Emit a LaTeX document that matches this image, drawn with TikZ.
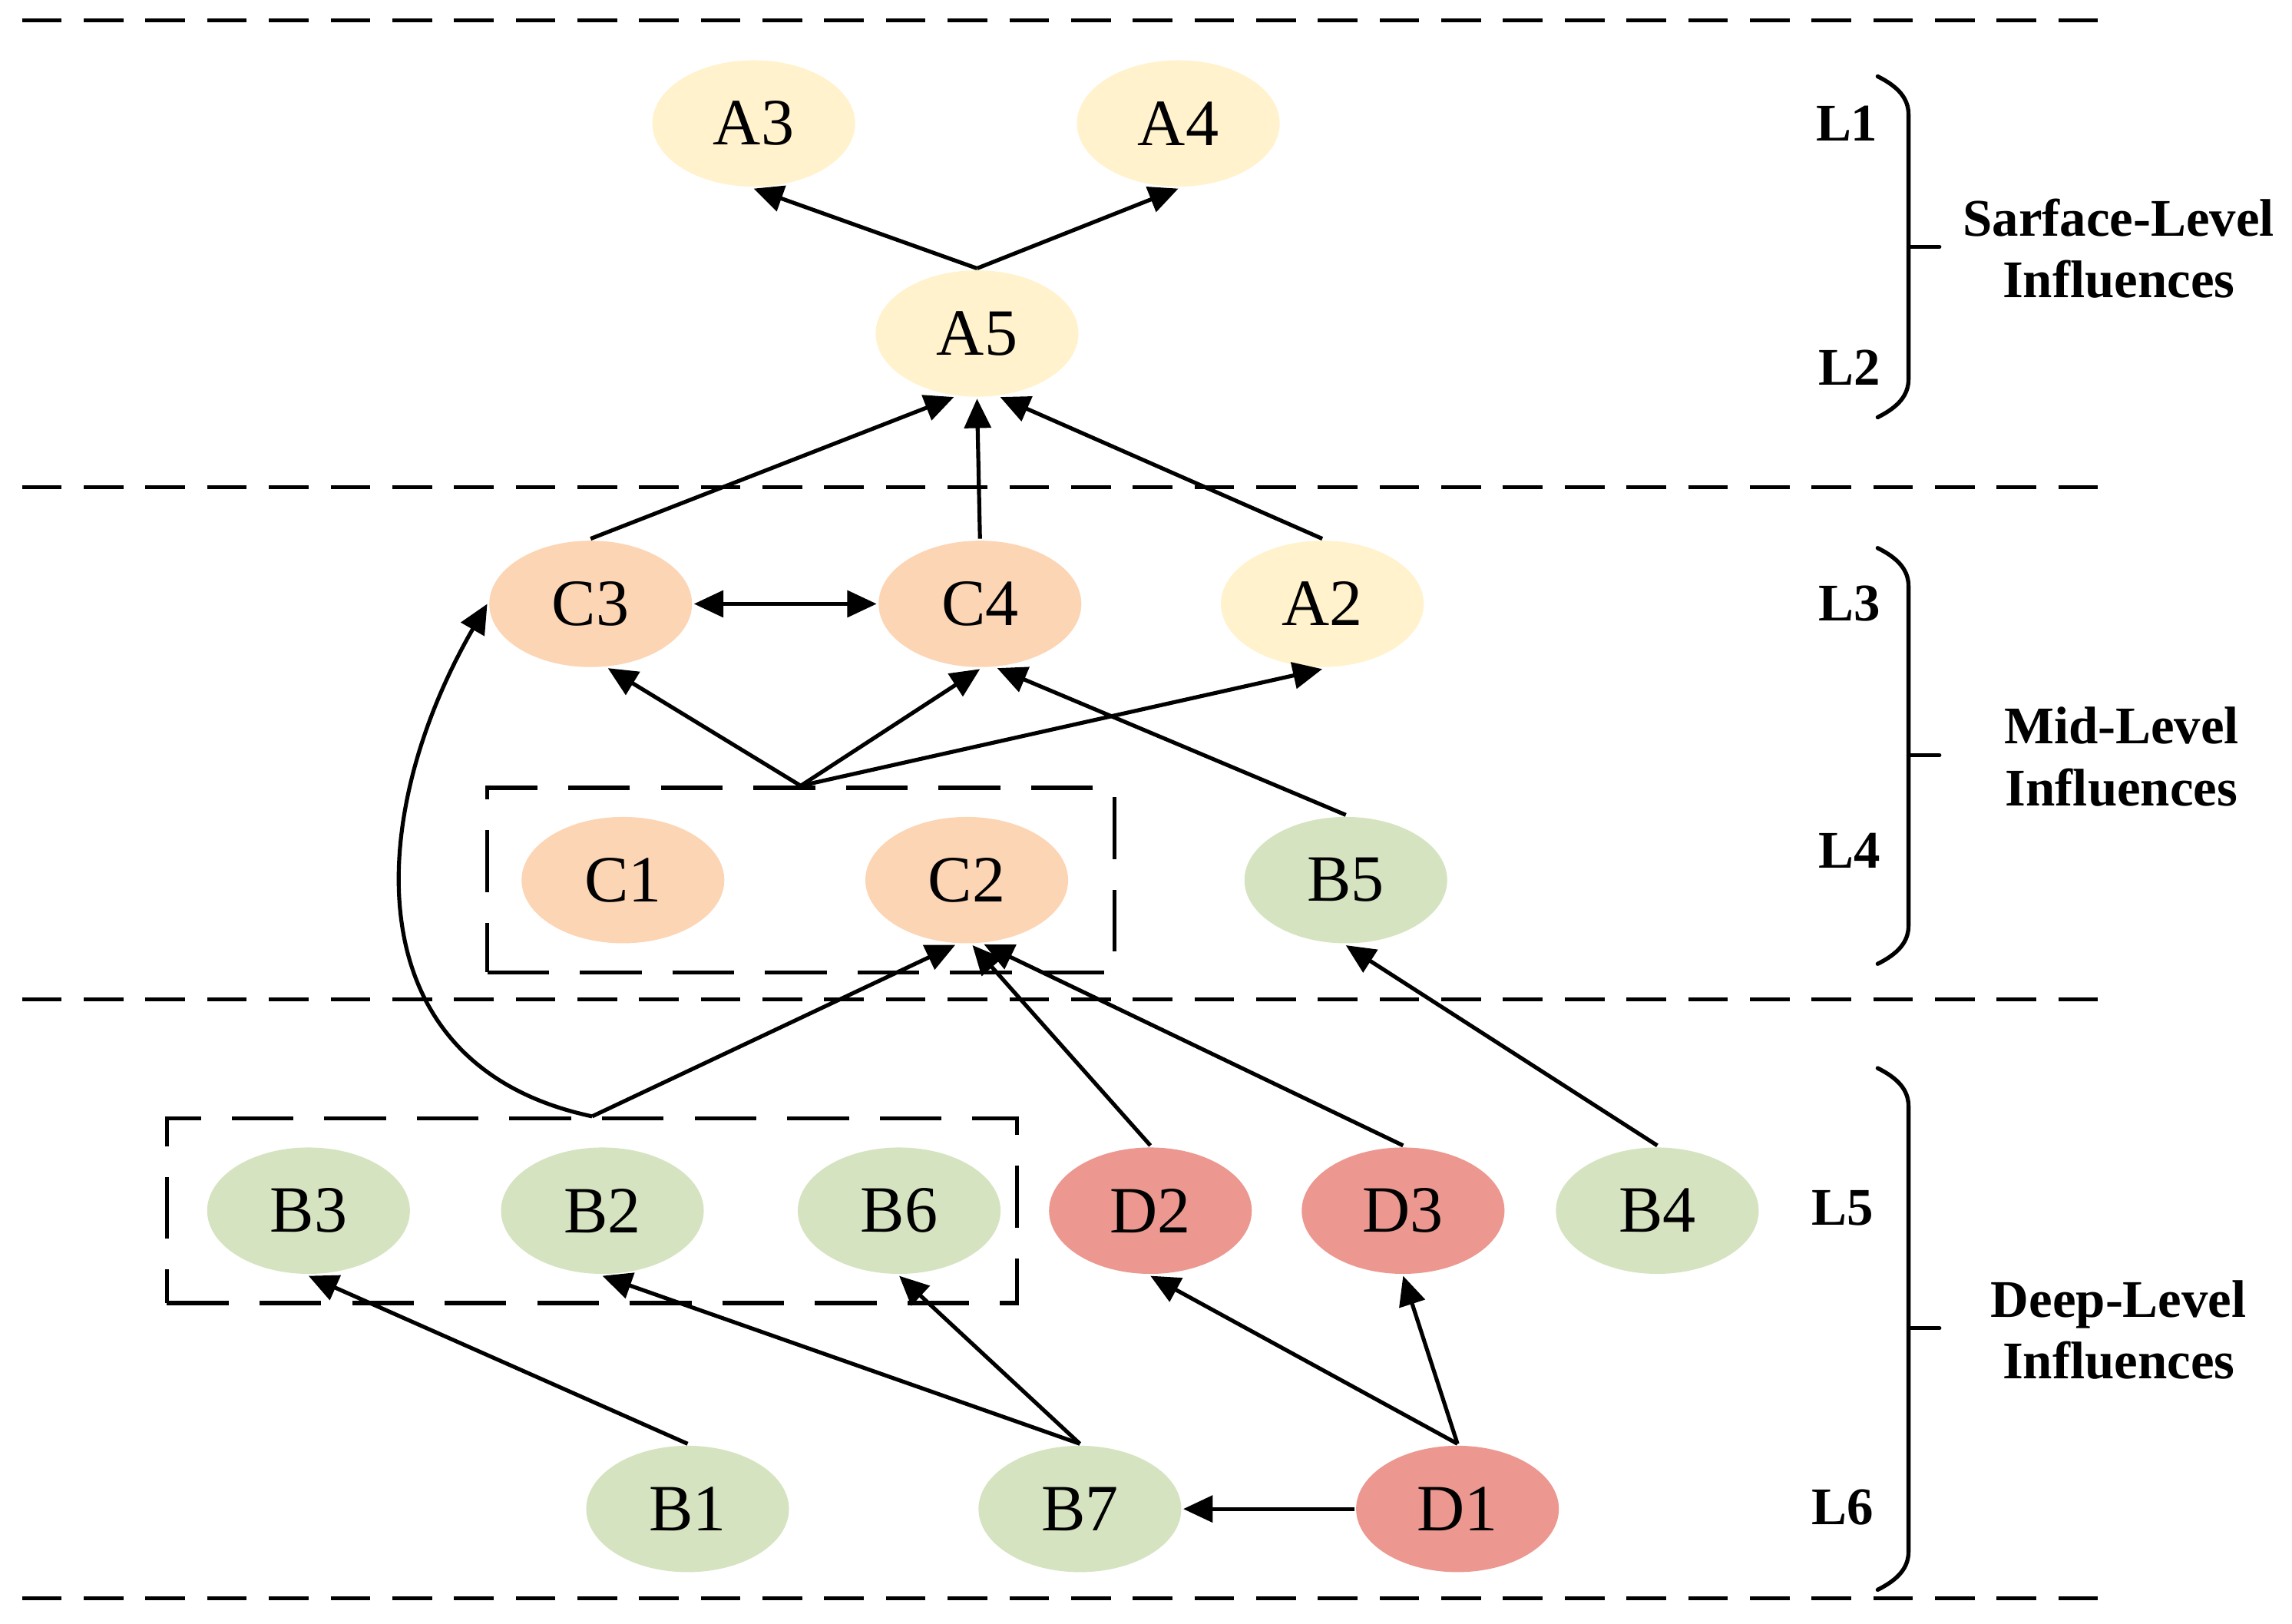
\documentclass[tikz,border=0pt]{standalone}
\usepackage{fontspec}
\setmainfont{Liberation Serif}
\usetikzlibrary{arrows.meta,shapes.geometric,fit,positioning}

\definecolor{surfacecol}{HTML}{FFF2CC}
\definecolor{midcol}{HTML}{FCD5B5}
\definecolor{bcol}{HTML}{D5E3C0}
\definecolor{dcol}{HTML}{EC978F}

\begin{document}
\begin{tikzpicture}[x=0.5pt,y=0.5pt,>={Triangle[length=10pt,width=9pt]},line width=1.35pt,
    main node/.style={ellipse,minimum width=69pt,minimum height=43pt,inner sep=0pt,font=\fontsize{22.5}{27}\selectfont},
    a node/.style={main node,fill=surfacecol},
    c node/.style={main node,fill=midcol},
    b node/.style={main node,fill=bcol},
    d node/.style={main node,fill=dcol},
    group box/.style={draw,rectangle,dash pattern=on 21pt off 10.5pt,inner ysep=9.25pt},
    level line/.style={dash pattern=on 13.5pt off 7.5pt},
    level label/.style={font=\bfseries\fontsize{18}{21}\selectfont,align=center},
    brace/.style={line width=1.4pt,line cap=round}]
                \useasboundingbox (0,0) rectangle (1560,-1105.3);

                % level separators
                \foreach \y in {14,331.5,680,1088}
                    \draw[level line] (15,-\y) -- (1432,-\y);

                % nodes
                \node[a node] (A3) at (513,-84) {A3};
                \node[a node] (A4) [right of=A3, node distance=144.5pt] {A4};
                \node[a node] (A5) at (665,-227) {A5};
                \node[c node] (C3) at (402,-411) {C3};
                \node[c node] (C4) at (667,-411) {C4};
                \node[a node] (A2) at (900,-411) {A2};
                \node[c node] (C1) at (424,-599) {C1};
                \node[c node] (C2) at (658,-599) {C2};
                \node[b node] (B5) at (916,-599) {B5};
                \node[b node] (B3) at (210,-824) {B3};
                \node[b node] (B2) [right of=B3, node distance=100pt] {B2};
                \node[b node] (B6) [right of=B2, node distance=101pt] {B6};
                \node[d node] (D2) at (783,-824) {D2};
                \node[d node] (D3) [right of=D2, node distance=86pt] {D3};
                \node[b node] (B4) [right of=D3, node distance=86.5pt] {B4};
                \node[b node] (B1) at (468,-1027) {B1};
                \node[b node] (B7) at (735,-1027) {B7};
                \node[d node] (D1) at (992,-1027) {D1};

                \node[group box, fit=(C1)(C2), inner xsep=13pt, xshift=2pt] (grp1) {};
                \node[group box, fit=(B3)(B6), inner xsep=9pt, xshift=-4pt] (grp2) {};

                \path[->]
                    (A5.north) edge (A3.south)
                    (A5.north) edge (A4.south)
                    (C3.north) edge (A5.250)
                    (C4.north) edge (A5.south)
                    (A2.north) edge (A5.290)
                    (C3.east) edge [<->] (C4.west)
                    (grp1.north) edge (C3.285)
                    (grp1.north) edge (C4.south)
                    (grp1.north) edge (A2.south)
                    (B5.north) edge (C4.285)
                    (grp2.north) edge (C2.260)
                    (grp2.north) edge [out=168, in=240, looseness=1.2] (C3.west)
                    (D2.north) edge (C2.275)
                    (D3.north) edge (C2.285)
                    (B4.north) edge (B5.south)
                    (B1.north) edge (B3.south)
                    (B7.north) edge (B2.south)
                    (B7.north) edge (B6.south)
                    (D1.north) edge (D2.south)
                    (D1.north) edge (D3.south)
                    (D1.west) edge (B7.east)
                    ;

                % level labels
                \node[level label] (L1) at (1257,-84) {L1};
                \node[level label] (L2) at (1259,-250) {L2};
                \node[level label] (L3) at (1259,-411) {L3};
                \node[level label] (L4) at (1259,-579) {L4};
                \node[level label] (L5) at (1254,-822) {L5};
                \node[level label] (L6) at (1254,-1026) {L6};

                \foreach \t/\b/\m in {52/284/168, 373/656/514, 727/1082/904} {
                    \draw[brace] (1278,-\t) .. controls (1292,-\t-7) and (1299,-\t-15) .. (1299,-\t-26)
                        -- (1299,-\b+26) .. controls (1299,-\b+15) and (1292,-\b+7) .. (1278,-\b);
                    \draw[brace] (1299,-\m) -- (1320,-\m);
                }
                \node[level label] (surf) at (1442,-169) {Sarface-Level\\Influences};
                \node[level label] (mid) at (1444,-515) {Mid-Level\\Influences};
                \node[level label] (deep) at (1442,-905) {Deep-Level\\Influences};
            \end{tikzpicture}
\end{document}
